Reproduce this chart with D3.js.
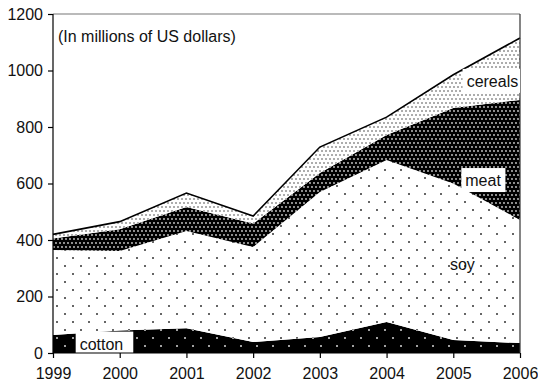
<!DOCTYPE html>
<html>
<head>
<meta charset="utf-8">
<script src="https://cdn.jsdelivr.net/npm/d3@7"></script>
<style>
  body { margin: 0; background: #fff; }
  svg text { font-family: "Liberation Sans", Arial, sans-serif; fill: #111; }
</style>
</head>
<body>
<div id="chart"></div>
<script>
var years = [1999, 2000, 2001, 2002, 2003, 2004, 2005, 2006];
var cotton = [64, 80, 88, 39, 57, 110, 46, 35];
var soy = [301, 281, 344, 336, 513, 573, 554, 436];
var meat = [40, 77, 85, 83, 67, 89, 267, 425];
var cereals = [15, 27, 49, 27, 92, 63, 118, 219];
var yTicks = [0, 200, 400, 600, 800, 1000, 1200];
var seriesKeys = ["cotton", "soy", "meat", "cereals"];

var margin = {top: 14, right: 18, bottom: 35, left: 53},
  width = 538 - margin.left - margin.right,
  height = 388 - margin.top - margin.bottom;

var table = years.map(function(y, i) {
  return {year: y, cotton: cotton[i], soy: soy[i], meat: meat[i], cereals: cereals[i]};
});

var svg = d3.select("#chart").append("svg")
  .attr("width", 538)
  .attr("height", 388);

// fill patterns (dots)
var defs = svg.append("defs");

function dotPattern(id, size, bg, fg, r, pts) {
  var p = defs.append("pattern")
    .attr("id", id)
    .attr("patternUnits", "userSpaceOnUse")
    .attr("width", size)
    .attr("height", size);
  p.append("rect").attr("width", size).attr("height", size).attr("fill", bg);
  pts.forEach(function(pt) {
    p.append("circle").attr("cx", pt[0]).attr("cy", pt[1]).attr("r", r).attr("fill", fg);
  });
}
dotPattern("pat-cotton", 16, "#000", "#d8d8d8", 1, [[4, 4], [12, 12]]);
dotPattern("pat-soy", 16, "#fff", "#333", 1, [[4, 4], [12, 12]]);
dotPattern("pat-meat", 8, "#000", "#cfcfcf", 0.9, [[1, 1], [5, 1], [3, 5], [7, 5]]);
dotPattern("pat-cereals", 8, "#fff", "#444", 0.8, [[1, 1], [5, 1], [3, 5], [7, 5]]);

var g = svg.append("g")
  .attr("transform", "translate(" + margin.left + "," + margin.top + ")");

var x = d3.scaleLinear().domain([1999, 2006]).range([0, width]);
var y = d3.scaleLinear().domain([0, 1200]).range([height, 0]);

var stack = d3.stack().keys(seriesKeys);
var layers = stack(table);

var area = d3.area()
  .x(function(d) { return x(d.data.year); })
  .y0(function(d) { return y(d[0]); })
  .y1(function(d) { return y(d[1]); });

g.selectAll(".layer")
  .data(layers)
  .enter().append("path")
  .attr("class", "layer")
  .attr("d", area)
  .attr("fill", function(d) { return "url(#pat-" + d.key + ")"; });

// line along the total
var topLine = d3.line()
  .x(function(d) { return x(d.data.year); })
  .y(function(d) { return y(d[1]); });
g.append("path")
  .datum(layers[layers.length - 1])
  .attr("d", topLine)
  .attr("fill", "none")
  .attr("stroke", "#000")
  .attr("stroke-width", 1.6);

// frame top and right
g.append("line").attr("x1", 0).attr("x2", width).attr("y1", 0).attr("y2", 0)
  .attr("stroke", "#777").attr("stroke-width", 1.2);
g.append("line").attr("x1", width).attr("x2", width).attr("y1", 0).attr("y2", height)
  .attr("stroke", "#333").attr("stroke-width", 1.2);

// series labels on white boxes
var labels = [
  {text: "cotton", year: 1999.4, value: 12, box: true, padR: 10},
  {text: "soy", year: 2004.95, value: 294, box: false},
  {text: "meat", year: 2005.18, value: 591, box: true, padR: 4},
  {text: "cereals", year: 2005.2, value: 942, box: true, padR: 4}
];
labels.forEach(function(l) {
  var t = g.append("text")
    .attr("x", x(l.year))
    .attr("y", y(l.value))
    .style("font-size", "16px")
    .text(l.text);
  if (l.box) {
    var bb = t.node().getBBox();
    var bottom = l.text === "cotton" ? height : bb.y + bb.height + 3;
    g.insert("rect", "text")
      .attr("x", bb.x - 4)
      .attr("y", bb.y - 4)
      .attr("width", l.text === "cereals" ? width - bb.x + 4 : bb.width + 4 + l.padR)
      .attr("height", bottom - bb.y + 4)
      .attr("fill", "#fff");
  }
});

g.append("text")
  .attr("x", 5)
  .attr("y", 28)
  .style("font-size", "16px")
  .text("(In millions of US dollars)");

// axes
var xAxis = d3.axisBottom(x).tickValues(years).tickFormat(d3.format("d")).tickSize(5).tickPadding(10);
var yAxis = d3.axisLeft(y).tickValues(yTicks).tickFormat(d3.format("d")).tickSize(5).tickPadding(5);

var gx = g.append("g")
  .attr("transform", "translate(0," + height + ")")
  .call(xAxis);
var gy = g.append("g").call(yAxis);

[gx, gy].forEach(function(a) {
  a.select(".domain").attr("stroke", "#000").attr("stroke-width", 1.2);
  a.selectAll(".tick line").attr("stroke", "#000").attr("stroke-width", 1.2);
  a.selectAll(".tick text")
    .style("font-size", "16px")
    .style("font-family", "'Liberation Sans', Arial, sans-serif")
    .attr("fill", "#111");
});
gy.select(".domain").attr("d", "M0," + height + "V0");
gx.select(".domain").attr("d", "M0,0H" + width);
</script>
</body>
</html>
